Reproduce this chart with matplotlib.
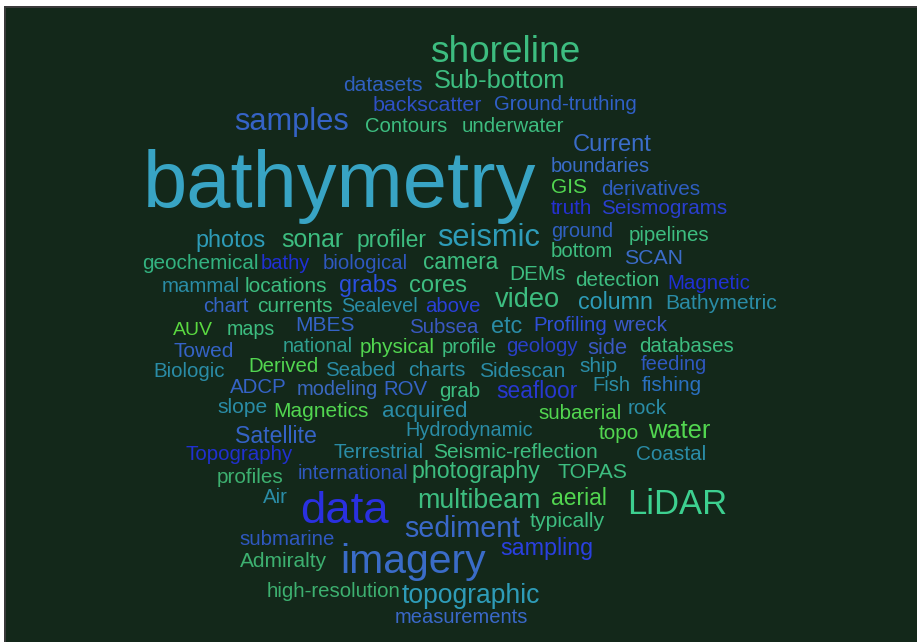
import matplotlib
matplotlib.use("Agg")
import matplotlib.pyplot as plt
from matplotlib.patches import Rectangle

plt.rcParams['font.family'] = ['Liberation Sans', 'DejaVu Sans']

# ---- data: words of the cloud ----
words = ["shoreline", "datasets", "Sub-bottom", "backscatter", "Ground-truthing", "samples",
         "Contours", "underwater", "Current", "bathymetry", "boundaries", "GIS", "derivatives",
         "truth", "Seismograms", "photos", "sonar", "profiler", "seismic", "ground", "pipelines",
         "bottom", "SCAN", "geochemical", "bathy", "biological", "camera", "DEMs", "detection",
         "Magnetic", "mammal", "locations", "grabs", "cores", "video", "column", "Bathymetric",
         "chart", "currents", "Sealevel", "above", "AUV", "maps", "MBES", "Subsea", "etc",
         "Profiling", "wreck", "Towed", "national", "physical", "profile", "geology", "side",
         "databases", "Biologic", "Derived", "Seabed", "charts", "Sidescan", "ship", "feeding",
         "ADCP", "modeling", "ROV", "grab", "seafloor", "Fish", "fishing", "slope", "Magnetics",
         "acquired", "subaerial", "rock", "Satellite", "Hydrodynamic", "topo", "water",
         "Topography", "Terrestrial", "Seismic-reflection", "Coastal", "profiles", "international",
         "photography", "TOPAS", "Air", "data", "multibeam", "aerial", "LiDAR", "sediment",
         "typically", "submarine", "sampling", "Admiralty", "imagery", "high-resolution",
         "topographic", "measurements"]

# ---- layout (pixel space of the picture): left edge, right edge, baseline ----
x_left = [430, 343, 434, 373, 494, 234, 365, 462, 573, 143, 551, 551, 601,
          551, 601, 195, 281, 357, 437, 551, 629,
          551, 624, 142, 261, 323, 423, 509, 575,
          667, 162, 245, 339, 409, 495, 578, 665,
          203, 257, 341, 425, 173, 227, 295, 409, 491,
          533, 613, 173, 283, 360, 442, 506, 587,
          639, 153, 248, 325, 408, 479, 579, 641,
          230, 297, 383, 439, 496, 592, 642, 217, 273,
          382, 538, 628, 235, 405, 599, 648,
          185, 333, 433, 636, 217, 298,
          412, 558, 263, 300, 417, 551, 627, 404,
          530, 239, 500, 240, 340, 267,
          402, 395]
x_right = [580, 422, 565, 482, 636, 349, 447, 564, 652, 535, 650, 587, 700,
           592, 727, 265, 343, 427, 540, 613, 710,
           613, 683, 258, 310, 408, 498, 565, 659,
           750, 240, 327, 397, 467, 560, 653, 776,
           248, 332, 417, 480, 213, 275, 354, 478, 522,
           607, 667, 233, 353, 435, 497, 577, 627,
           733, 225, 318, 395, 465, 565, 617, 707,
           287, 378, 427, 480, 577, 630, 702, 267, 368,
           467, 621, 667, 317, 532, 639, 710,
           292, 423, 598, 706, 284, 408,
           540, 628, 288, 388, 540, 607, 727, 520,
           605, 334, 593, 327, 485, 400,
           540, 528]
baseline = [62, 91, 88, 111, 110, 130, 132, 132, 151, 207, 172, 193, 195,
            214, 214, 247, 247, 247, 246, 237, 241,
            257, 264, 269, 269, 269, 269, 280, 286,
            289, 292, 292, 292, 292, 307, 309, 309,
            312, 312, 312, 312, 335, 335, 331, 333, 333,
            331, 331, 357, 352, 353, 353, 352, 354,
            352, 377, 372, 376, 376, 377, 372, 370,
            393, 395, 395, 397, 398, 391, 391, 413, 417,
            417, 419, 414, 443, 436, 439, 438,
            460, 458, 458, 460, 483, 479,
            478, 478, 503, 523, 508, 505, 514, 537,
            527, 545, 555, 567, 573, 597,
            603, 623]

GREEN = "#3dbd80"
BRIGHT = "#52d650"
BLUE = "#3563c6"
DEEP = "#2a36d6"
TEAL = "#2e9cb8"
DTEAL = "#2a8ca6"
colors = [GREEN, "#3060c0", GREEN, "#2f50c5", "#3060c8", BLUE, GREEN, GREEN, "#3a6cc8", "#38a4c4",
          "#3a6cc8", BRIGHT, "#2f5ec0", "#2530d0", "#2a3fd0", TEAL, GREEN, GREEN, TEAL,
          "#3060c0", GREEN, GREEN, "#3b6cc8", "#33b280", "#2030d5", "#2f58c0", GREEN, GREEN,
          GREEN, "#2030d5", DTEAL, GREEN, "#2a4fe0", GREEN, GREEN, TEAL, DTEAL,
          BLUE, GREEN, DTEAL, "#2a40d8", "#5ad840", GREEN, BLUE, "#3a58c0", DTEAL,
          "#2f4fd8", "#3a58c8", BLUE, "#2f9f90", BRIGHT, GREEN, "#2a40c8", "#3a58c0",
          GREEN, DTEAL, BRIGHT, DTEAL, DTEAL, DTEAL, DTEAL, "#2f58c0",
          BLUE, "#3a68c0", BLUE, GREEN, "#2838d0", DTEAL, "#2a70c0", DTEAL, BRIGHT,
          DTEAL, BRIGHT, DTEAL, BLUE, DTEAL, BRIGHT, BRIGHT,
          "#2030d0", DTEAL, GREEN, DTEAL, "#3db070", "#2f58c0",
          GREEN, GREEN, DTEAL, "#2a30e0", GREEN, BRIGHT, "#3dd090", "#3a68c8",
          GREEN, "#2f58c0", "#2a40e0", "#3db070", "#3a6cc8", "#3db070",
          TEAL, "#3a68c8"]

W, H = 917, 642
fig = plt.figure(figsize=(W / 100, H / 100), dpi=100)
fig.patch.set_facecolor("white")
ax = fig.add_axes([0, 0, 1, 1])
ax.set_xlim(0, W)
ax.set_ylim(H, 0)
ax.axis("off")

# background panel and its thin frame on top/left
ax.add_patch(Rectangle((4, 5.5), W + 20, H + 20, facecolor="#3a3a3a",
                       edgecolor="none", zorder=0, clip_on=False))
ax.add_patch(Rectangle((5.5, 8), W + 20, H + 20, facecolor="#13281a",
                       edgecolor="none", zorder=1, clip_on=False))

renderer = fig.canvas.get_renderer()
ref = 20.0
for w, xl, xr, yb, c in zip(words, x_left, x_right, baseline, colors):
    t = ax.text(xl, yb, w, fontsize=ref, color=c, ha="left", va="baseline", zorder=2)
    bb = t.get_window_extent(renderer)
    t.set_fontsize(ref * (xr - xl) / bb.width)

fig.savefig("out.png", dpi=100, facecolor=fig.get_facecolor())
